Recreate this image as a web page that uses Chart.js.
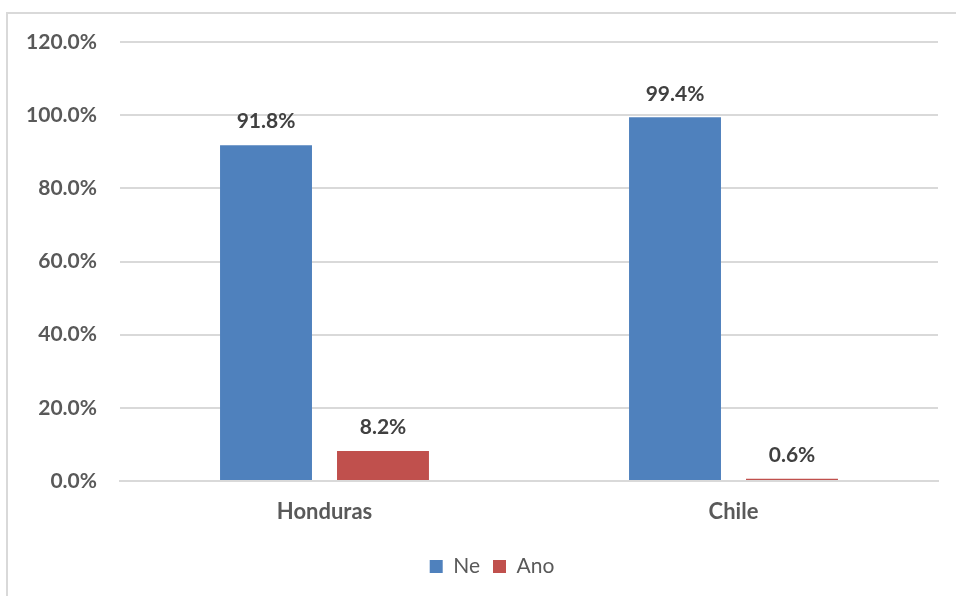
<!DOCTYPE html>
<html>
<head>
<meta charset="utf-8">
<script src="https://cdn.jsdelivr.net/npm/chart.js@4.4.1/dist/chart.umd.min.js"></script>
<style>
  html, body { margin: 0; padding: 0; background: #fff; }
  #wrap { position: relative; width: 956px; height: 596px; overflow: hidden; }
  #frame { position: absolute; left: 6px; top: 12px; width: 1000px; height: 1000px; border-left: 2px solid #d9d9d9; border-top: 2px solid #d9d9d9; box-sizing: border-box; }
  canvas { position: absolute; left: 0; top: 0; }
</style>
</head>
<body>
<div id="wrap">
  <div id="frame"></div>
  <canvas id="c" width="956" height="596"></canvas>
</div>
<script>
const categories = ["Honduras", "Chile"];
const seriesNames = ["Ne", "Ano"];
const neValues = [91.8, 99.4];
const anoValues = [8.2, 0.6];
const yTicks = [0, 20, 40, 60, 80, 100, 120];

const FONT = "Lato, 'Open Sans', sans-serif";

const dataLabels = {
  id: 'dataLabels',
  afterDatasetsDraw(chart) {
    const ctx = chart.ctx;
    ctx.save();
    ctx.font = "bold 21px " + FONT;
    ctx.fillStyle = "#404040";
    ctx.textAlign = "center";
    ctx.textBaseline = "bottom";
    chart.data.datasets.forEach((ds, i) => {
      const meta = chart.getDatasetMeta(i);
      meta.data.forEach((bar, j) => {
        ctx.fillText(ds.data[j].toFixed(1) + "%", bar.x, bar.y - 13);
      });
    });
    ctx.restore();
  }
};

const legendShift = {
  id: 'legendShift',
  afterLayout(chart) {
    if (chart.legend) { chart.legend.left += 23; chart.legend.right += 23; }
  }
};

new Chart(document.getElementById('c'), {
  type: 'bar',
  data: {
    labels: categories,
    datasets: [
      { label: seriesNames[0], data: neValues, backgroundColor: '#4F81BD', categoryPercentage: 0.572, barPercentage: 0.786 },
      { label: seriesNames[1], data: anoValues, backgroundColor: '#C0504D', categoryPercentage: 0.572, barPercentage: 0.786 }
    ]
  },
  options: {
    responsive: false,
    animation: false,
    devicePixelRatio: 1,
    layout: { padding: { left: 0, right: 18, top: 42, bottom: 9 } },
    plugins: {
      legend: {
        position: 'bottom',
        labels: {
          font: { family: FONT, size: 21 },
          color: '#595959',
          boxWidth: 13,
          boxHeight: 13,
          padding: 13
        }
      },
      tooltip: { enabled: false }
    },
    scales: {
      x: {
        grid: { display: false, drawTicks: false },
        border: { display: true, color: '#d9d9d9', width: 2 },
        ticks: { font: { family: FONT, size: 22, weight: 'bold' }, color: '#595959', padding: 18 },
        afterFit(s) { s.height = 62; }
      },
      y: {
        min: 0, max: 120,
        afterBuildTicks(s) { s.ticks = yTicks.map(v => ({ value: v })); },
        grid: { color: '#d9d9d9', lineWidth: 2, drawTicks: false },
        border: { display: false },
        ticks: {
          font: { family: FONT, size: 21, weight: 'bold' },
          color: '#595959',
          padding: 23,
          callback: v => v.toFixed(1) + '%'
        },
        afterFit(s) { s.width = 120; }
      }
    }
  },
  plugins: [dataLabels, legendShift]
});
</script>
</body>
</html>
